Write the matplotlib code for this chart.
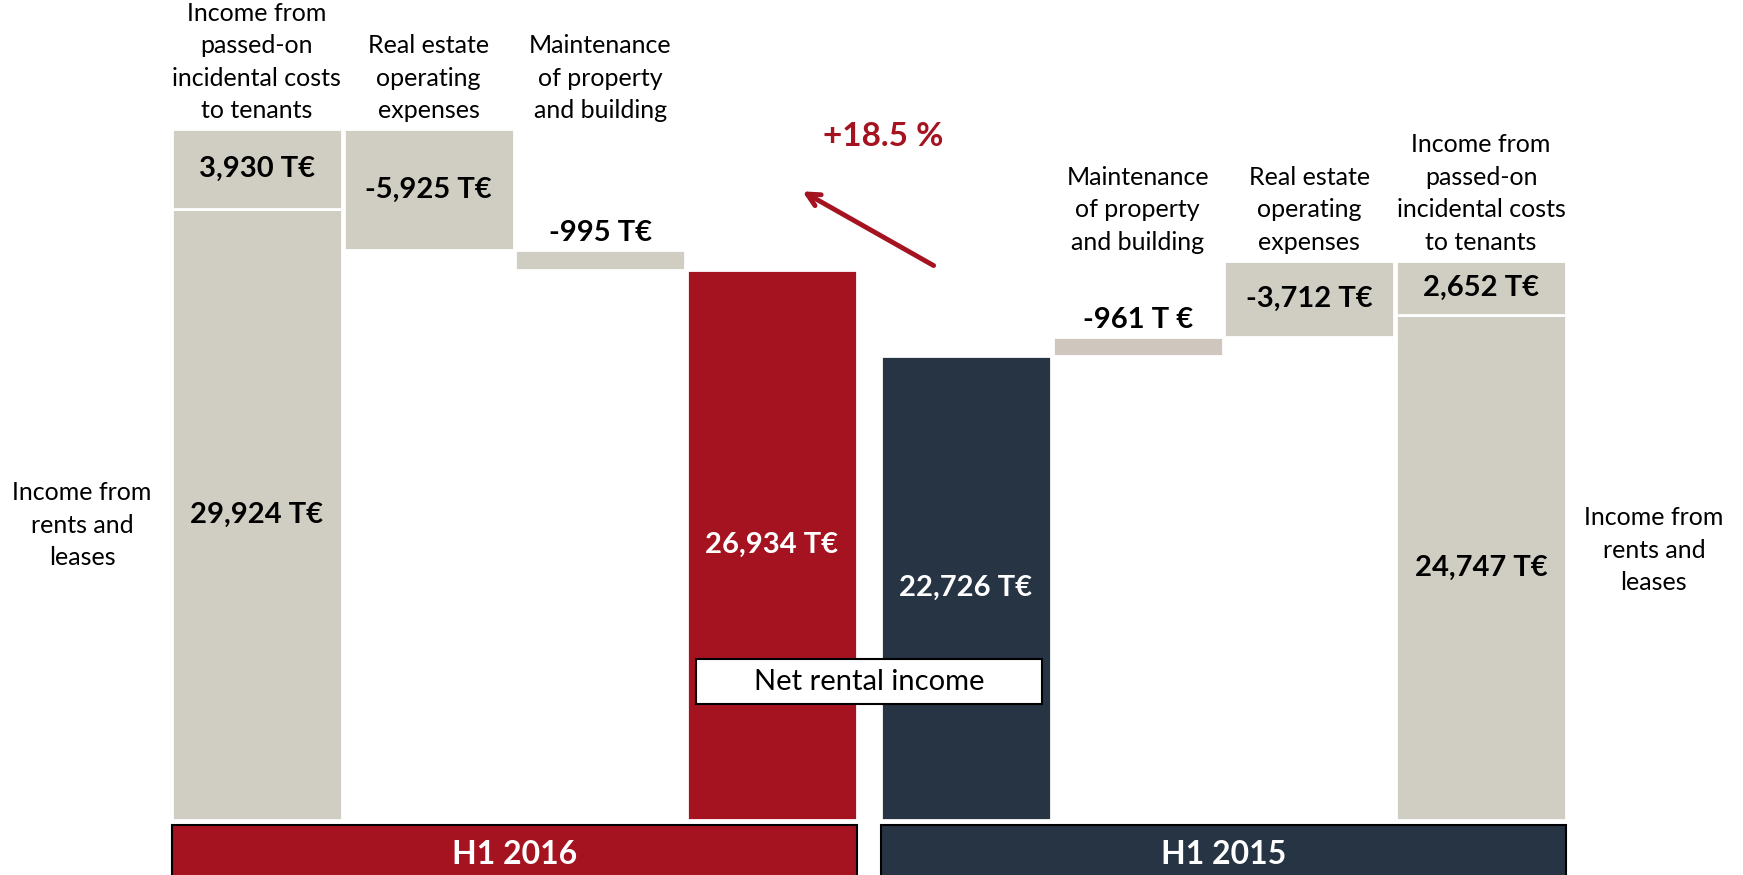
import numpy as np
import matplotlib.pyplot as plt
from matplotlib.patches import Rectangle
from matplotlib.transforms import blended_transform_factory

plt.rcParams['font.family'] = ['Lato', 'DejaVu Sans']

# values in T€, index 0 = H1 2016, index 1 = H1 2015
periods = ["H1 2016", "H1 2015"]
rents = [29924, 24747]
passed_on = [3930, 2652]
opex = [-5925, -3712]
maintenance = [-995, -961]
net_income = [26934, 22726]
maint_unit = ["T€", "T €"]

cat_rents = "Income from\nrents and\nleases"
cat_passed = "Income from\npassed-on\nincidental costs\nto tenants"
cat_opex = "Real estate\noperating\nexpenses"
cat_maint = "Maintenance\nof property\nand building"
cat_net = "Net rental income"

RED = '#A51320'
NAVY = '#263444'
GREY = '#D0CEC2'
GREY2 = '#CFC7BE'

fig = plt.figure(figsize=(17.43, 8.75), dpi=100)
ax = fig.add_axes([0, 55 / 875, 1, 820 / 875])
ax.set_xlim(-1.496, 8.656)
ax.set_ylim(0, 820 * 49.0)
ax.axis('off')

w = 0.99
gap = 0.13
fs_cat = 18
fs_val = 21
ls_cat = 1.5
bar_kw = dict(width=w, edgecolor='white', linewidth=2)
trans_fig_y = blended_transform_factory(ax.transData, fig.transFigure)


def center_label(x, y, s, color='black'):
    ax.text(x, y, s, ha='center', va='center', fontsize=fs_val,
            fontweight='bold', color=color, zorder=5)


for g in range(2):
    if g == 0:
        x_stack, x_opex, x_maint, x_net = 0, 1, 2, 3
        net_color = RED
        maint_color = GREY
    else:
        x_stack, x_opex, x_maint, x_net = 7 + gap, 6 + gap, 5 + gap, 4 + gap
        net_color = NAVY
        maint_color = GREY2

    top = rents[g] + passed_on[g]
    after_opex = top + opex[g]
    after_maint = after_opex + maintenance[g]

    ax.bar(x_stack, rents[g], color=GREY, **bar_kw)
    ax.bar(x_stack, passed_on[g], bottom=rents[g], color=GREY, **bar_kw)
    ax.bar(x_opex, -opex[g], bottom=after_opex, color=GREY, **bar_kw)
    ax.bar(x_maint, -maintenance[g], bottom=after_maint, color=maint_color, **bar_kw)
    ax.bar(x_net, net_income[g], color=net_color, **bar_kw)

    center_label(x_stack, rents[g] / 2, f"{rents[g]:,} T€")
    center_label(x_stack, rents[g] + passed_on[g] / 2, f"{passed_on[g]:,} T€")
    center_label(x_opex, after_opex - opex[g] / 2, f"{opex[g]:,} T€")
    ax.annotate(f"{maintenance[g]:,} {maint_unit[g]}", (x_maint, after_opex),
                xytext=(0, 12), textcoords='offset points', ha='center', va='center',
                fontsize=fs_val, fontweight='bold')
    center_label(x_net, net_income[g] / 2, f"{net_income[g]:,} T€", color='white')

    # category labels above the columns, bottom aligned per group
    for xc, s in [(x_stack, cat_passed), (x_opex, cat_opex), (x_maint, cat_maint)]:
        ax.annotate(s, (xc, top), xytext=(0, 5), textcoords='offset points',
                    ha='center', va='bottom', fontsize=fs_cat, linespacing=ls_cat)

    # period box under the group
    x0 = min(x_stack, x_net) - w / 2
    x1 = max(x_stack, x_net) + w / 2
    ax.add_patch(Rectangle((x0, -0.1), x1 - x0, 0.1 + 50 / 875, transform=trans_fig_y,
                           facecolor=net_color, edgecolor='black', linewidth=1.5,
                           clip_on=False, zorder=3))
    ax.text((x0 + x1) / 2, 21 / 875, periods[g], transform=trans_fig_y, ha='center',
            va='center', fontsize=23, fontweight='bold', color='white', zorder=4)

# side labels for rents
ax.text(-1.018, 14450, cat_rents, ha='center', va='center', fontsize=fs_cat,
        linespacing=ls_cat)
ax.text(8.137, 13230, cat_rents, ha='center', va='center', fontsize=fs_cat,
        linespacing=ls_cat)

# net rental income box between the two net bars
mid = (3 + 4 + gap) / 2
ax.add_patch(Rectangle((mid - 1.01, 5690), 2.02, 2180, facecolor='white',
                       edgecolor='black', linewidth=1.5, zorder=6))
ax.text(mid, 6780, cat_net, ha='center', va='center', fontsize=21, zorder=7)

# growth arrow
growth = (net_income[0] / net_income[1] - 1) * 100
ax.annotate('', xy=(3.164, 30870), xytext=(3.956, 27100),
            arrowprops=dict(arrowstyle='->,head_length=0.9,head_width=0.45',
                            color=RED, lw=3.5))
ax.text(3.647, 33470, f"+{growth:.1f} %", ha='center', va='center', fontsize=24,
        fontweight='bold', color=RED)

fig.savefig('out.png', dpi=100)
